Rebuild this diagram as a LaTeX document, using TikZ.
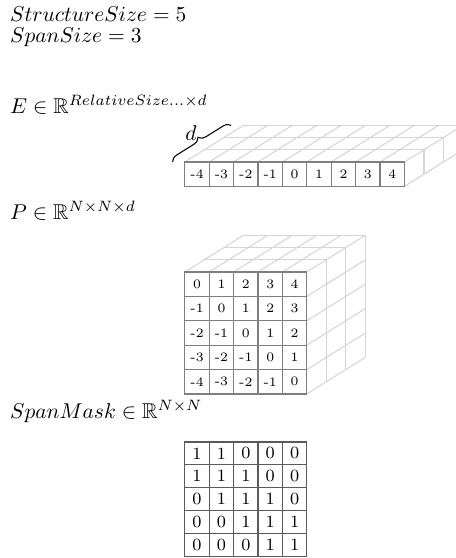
\documentclass[tikz,border=0pt]{standalone}
\usepackage{amsmath,amssymb}
\usetikzlibrary{decorations.pathreplacing}
\definecolor{gridfront}{HTML}{7F7F7F}
\definecolor{gridback}{HTML}{D6D6D6}
\definecolor{maskline}{HTML}{5A5A5A}

\begin{document}
\begin{tikzpicture}[
  every node/.style={inner sep=0pt},
  mathlabel/.style={anchor=base west},
  backline/.style={draw=gridback, line width=0.5pt},
  frontcell/.style={draw=gridfront, line width=0.6pt, fill=white,
    minimum width=0.4cm, minimum height=0.4cm, font=\fontsize{6}{7}\selectfont},
  maskcell/.style={draw=maskline, line width=0.6pt,
    minimum width=0.4cm, minimum height=0.375cm, font=\footnotesize}
]

  % ---- Frame ----
  \useasboundingbox (0,-9.147) rectangle (7.475,0);
  \clip (0,-9.147) rectangle (7.475,0);

  % ---- Sizes ----
  \node[mathlabel] (structsize) at (0.16,-0.36) {$StructureSize = 5$};
  \node[mathlabel] (spansize) at (0.16,-0.70) {$SpanSize = 3$};

  % ============ RELATIVE EMBEDDING E ============
  \node[mathlabel] (elabel) at (0.16,-1.86)
    {$E \in \mathbb{R}^{RelativeSize...\times d}$};

  \coordinate (eorigin) at (3.03,-2.655);

  % Top face
  \foreach \k in {1,2,3}
    \draw[backline] ([shift={(\k*0.32,\k*0.2)}]eorigin) -- ++(3.6,0);
  \foreach \i in {0,...,9}
    \draw[backline] ([xshift=\i*0.4cm]eorigin) -- ++(0.96,0.6);
  % Right face
  \foreach \k in {1,2,3}
    \draw[backline] ([shift={(3.6+\k*0.32,\k*0.2)}]eorigin) -- ++(0,-0.4);
  \draw[backline] ([shift={(3.6,-0.4)}]eorigin) -- ++(0.96,0.6);

  % Front face
  \foreach \v [count=\i from 0] in {-4,-3,-2,-1,0,1,2,3,4}
    \node[frontcell] (e\i) at ([shift={(0.2+\i*0.4,-0.2)}]eorigin) {\v};

  % Depth brace
  \draw[line width=0.5pt, decorate, decoration={brace, amplitude=3.5pt}]
    ([xshift=-0.2cm]eorigin) -- ([shift={(0.76,0.6)}]eorigin)
    coordinate[midway] (dtip);
  \node (dlabel) at (3.13,-2.18) {$d$};

  % ============ POSITION TENSOR P ============
  \node[mathlabel] (plabel) at (0.16,-3.60)
    {$P \in \mathbb{R}^{N \times N \times d}$};

  \coordinate (porigin) at (3.03,-4.458);

  % Top face
  \foreach \k in {1,2,3}
    \draw[backline] ([shift={(\k*0.32,\k*0.2)}]porigin) -- ++(2.0,0);
  \foreach \i in {0,...,5}
    \draw[backline] ([xshift=\i*0.4cm]porigin) -- ++(0.96,0.6);
  % Right face
  \foreach \k in {1,2,3}
    \draw[backline] ([shift={(2.0+\k*0.32,\k*0.2)}]porigin) -- ++(0,-2.0);
  \foreach \j in {1,...,5}
    \draw[backline] ([shift={(2.0,-\j*0.4)}]porigin) -- ++(0.96,0.6);

  % Front face: entry = column - row
  \foreach \r in {0,...,4}
    \foreach \c in {0,...,4} {
      \pgfmathtruncatemacro{\pval}{\c-\r}
      \node[frontcell] (p\r\c) at ([shift={(0.2+\c*0.4,-0.2-\r*0.4)}]porigin)
        {\pval};
    }

  % ============ SPAN MASK ============
  \node[mathlabel] (masklabel) at (0.16,-6.86)
    {$SpanMask \in \mathbb{R}^{N \times N}$};

  \coordinate (morigin) at (3.03,-7.245);

  % 1 inside the span band, 0 outside
  \foreach \r in {0,...,4}
    \foreach \c in {0,...,4} {
      \pgfmathtruncatemacro{\mval}{abs(\c-\r)<2 ? 1 : 0}
      \node[maskcell] (m\r\c) at ([shift={(0.2+\c*0.4,-0.1875-\r*0.375)}]morigin)
        {\mval};
    }

\end{tikzpicture}
\end{document}
